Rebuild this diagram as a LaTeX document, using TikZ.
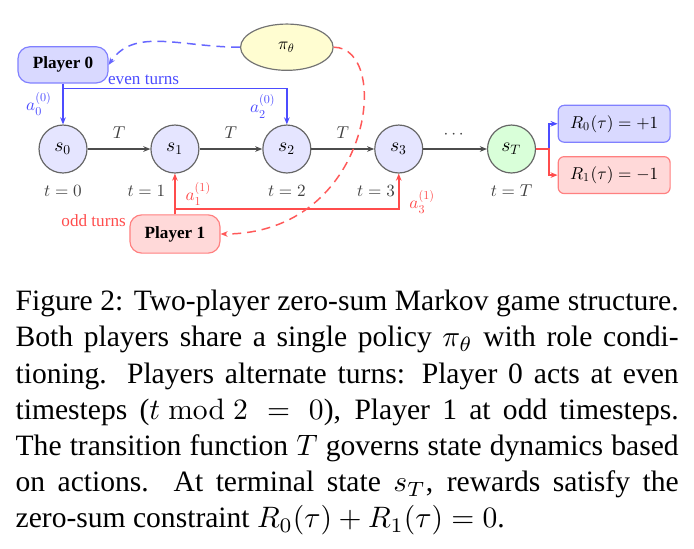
\documentclass[tikz,border=0pt]{standalone}
\usepackage[no-math]{fontspec}
\setmainfont{Liberation Serif}
\usepackage{amsmath, amssymb}
\usepackage{xcolor}
\usepackage{tikz}
\usetikzlibrary{shapes.geometric,arrows.meta,positioning,calc}

% small sizes use the 10pt designs, scaled down
\DeclareFontShape{OML}{cmm}{m}{it}{<-6.9> cmmi10 <6.9-9> cmmi7 <9-> cmmi10}{\skewchar\font=127}
\DeclareFontShape{OT1}{cmr}{m}{n}{<-6.9> cmr10 <6.9-9> cmr7 <9-> cmr10}{}
\DeclareFontShape{OMS}{cmsy}{m}{n}{<-6.9> cmsy10 <6.9-9> cmsy7 <9-> cmsy10}{\skewchar\font=48}
\DeclareMathSizes{5.8}{5.8}{4.1}{2.9}
\DeclareMathSizes{6.6}{6.6}{4.6}{3.3}

\newcommand{\diagfont}{\fontsize{5.8}{7}\selectfont}
\newcommand{\statefont}{\fontsize{6.6}{8}\selectfont}

\begin{document}
\begin{tikzpicture}[
        state/.style={
            circle,
            draw=black!60,
            fill=blue!10,
            minimum size=0.57cm,
            inner sep=0pt,
            font=\statefont
        },
        termstate/.style={
            state,
            fill=green!15
        },
        player0/.style={
            rectangle,
            rounded corners=4pt,
            draw=blue!50,
            fill=blue!15,
            minimum width=1.07cm,
            minimum height=0.43cm,
            font=\diagfont\bfseries
        },
        player1/.style={
            player0,
            draw=red!50,
            fill=red!15,
            minimum height=0.455cm
        },
        policy/.style={
            ellipse,
            draw=black!55,
            fill=yellow!18,
            minimum width=1.1cm,
            minimum height=0.55cm,
            font=\diagfont
        },
        reward0/.style={
            rectangle,
            rounded corners=2pt,
            draw=blue!50,
            fill=blue!15,
            minimum width=1.33cm,
            minimum height=0.37cm,
            font=\diagfont
        },
        reward1/.style={
            reward0,
            draw=red!50,
            fill=red!15,
            minimum height=0.38cm
        },
        timelbl/.style={
            anchor=base,
            text=black!75,
            font=\diagfont
        },
        trans/.style={
            -{Stealth[length=2.4pt,width=1.9pt]},
            draw=black!70,
            line width=0.5pt
        },
        evenact/.style={
            -{Stealth[length=2.4pt,width=1.9pt]},
            draw=blue!70,
            text=blue!70,
            line width=0.6pt,
            font=\diagfont
        },
        oddact/.style={
            evenact,
            draw=red!70,
            text=red!70
        },
        evenshare/.style={
            -{Stealth[length=2.4pt,width=1.9pt]},
            draw=blue!60,
            line width=0.5pt,
            dash pattern=on 3pt off 2pt
        },
        oddshare/.style={
            evenshare,
            draw=red!65
        },
        captiontext/.style={
            anchor=base west,
            text width=7.88cm,
            inner sep=0pt,
            align=justify,
            font=\fontsize{10}{12.25}\selectfont
        }
    ]
        \useasboundingbox (-0.749,-4.742) rectangle (7.499,1.771);

        % States
        \node[state] (s0) at (0,0) {$s_0$};
        \node[state] (s1) at (1.33,0) {$s_1$};
        \node[state] (s2) at (2.66,0) {$s_2$};
        \node[state] (s3) at (3.99,0) {$s_3$};
        \node[termstate] (sT) at (5.33,0) {$s_T$};

        % Timesteps
        \node[timelbl] (t0) at (0,-0.56) {$t=0$};
        \node[timelbl] (t1) at (0.99,-0.56) {$t=1$};
        \node[timelbl] (t2) at (2.66,-0.56) {$t=2$};
        \node[timelbl] (t3) at (3.72,-0.56) {$t=3$};
        \node[timelbl] (tT) at (5.33,-0.56) {$t=T$};

        % Players, policy and rewards
        \node[player0] (p0) at (0,1.0) {Player 0};
        \node[player1] (p1) at (1.33,-1.01) {Player 1};
        \node[policy] (pi) at (2.66,1.21) {$\pi_\theta$};
        \node[reward0] (r0) at (6.55,0.30) {$R_0(\tau)=+1$};
        \node[reward1] (r1) at (6.55,-0.31) {$R_1(\tau)=-1$};

        % Transitions
        \draw[trans] (s0) -- node[above, text=black!75, font=\diagfont] (T1) {$T$} (s1);
        \draw[trans] (s1) -- node[above, text=black!75, font=\diagfont] (T2) {$T$} (s2);
        \draw[trans] (s2) -- node[above, text=black!75, font=\diagfont] (T3) {$T$} (s3);
        \draw[trans] (s3) -- node[above, text=black!75, font=\diagfont] (dots) {$\cdots$} (sT);

        % Even turns
        \draw[evenact] (p0.south) -- (s0.north) node[midway, left] (a0) {$a_0^{(0)}$};
        \draw[evenact] (p0.south) -- ++(0,-0.06) -| (s2.north)
            node[pos=0.18, above, inner sep=1pt] (even) {even turns}
            node[pos=0.75, left] (a2) {$a_2^{(0)}$};

        % Odd turns
        \draw[oddact] (p1.north) -- (s1.south) node[midway, right] (a1) {$a_1^{(1)}$};
        \draw[oddact] (p1.north) -- ++(0,0.06) -| (s3.south)
            node[pos=0.6, right] (a3) {$a_3^{(1)}$};
        \node[anchor=east, inner sep=1pt, text=red!70, font=\diagfont] (odd)
            at ($(p1.north west)+(0,-0.07)$) {odd turns};

        % Shared policy
        \draw[evenshare] (pi.west) .. controls +(-0.7,0) and +(0.3,0.45) .. (p0.east);
        \draw[oddshare] (pi.east) .. controls +(0.7,0) and +(1.8,0) .. (p1.east);

        % Terminal rewards
        \draw[evenact] (sT.east) -- ++(0.15,0) |- (r0.west);
        \draw[oddact] (sT.east) -- ++(0.15,0) |- (r1.west);

        % Caption
        \node[captiontext] (cap) at (-0.57,-1.92) {Figure 2: Two-player zero-sum Markov game structure.\linebreak
            Both players share a single policy $\pi_\theta$ with role condi-\linebreak
            tioning. Players alternate turns: Player 0 acts at even\linebreak
            timesteps ($t \bmod 2 = 0$), Player 1 at odd timesteps.\linebreak
            The transition function $T$ governs state dynamics based\linebreak
            on actions. At terminal state $s_T$, rewards satisfy the\linebreak
            zero-sum constraint $R_0(\tau) + R_1(\tau) = 0$.};
    \end{tikzpicture}
\end{document}
